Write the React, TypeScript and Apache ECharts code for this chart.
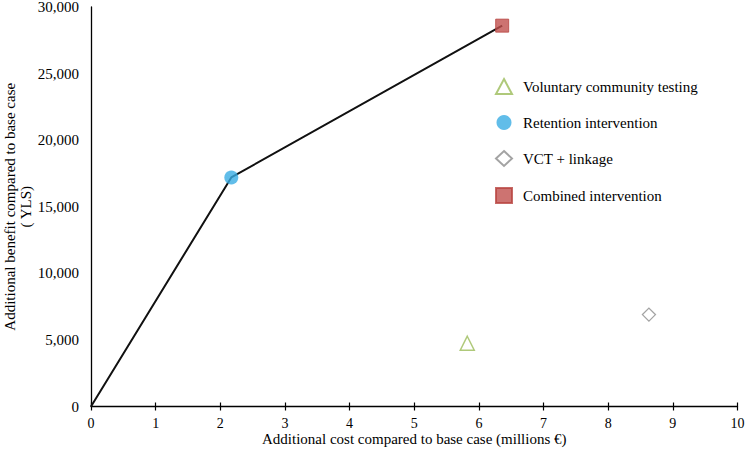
import React, { useEffect, useRef } from "react";
import * as echarts from "echarts";

const xTicks = [0, 1, 2, 3, 4, 5, 6, 7, 8, 9, 10];
const frontier: [number, number][] = [
  [0, 0],
  [2.17, 17200],
  [6.36, 28600],
];
const seriesNames = [
  "Voluntary community testing",
  "Retention intervention",
  "VCT + linkage",
  "Combined intervention",
];
const seriesPoints: [number, number][] = [
  [5.82, 4750],
  [2.17, 17200],
  [8.63, 6900],
  [6.36, 28600],
];

const FONT = "'Liberation Serif', 'Times New Roman', serif";

export default function App() {
  const ref = useRef<HTMLDivElement>(null);
  useEffect(() => {
    if (!ref.current) return;
    const chart = echarts.init(ref.current, undefined, { renderer: "svg" });
    const styles = [
      { symbol: "triangle", symbolSize: 14, itemStyle: { color: "#ffffff", borderColor: "#9BBB59", borderWidth: 1.5 } },
      { symbol: "circle", symbolSize: 14, itemStyle: { color: "#3AACE4" } },
      { symbol: "diamond", symbolSize: 13, itemStyle: { color: "#ffffff", borderColor: "#8C8C8C", borderWidth: 1.3 } },
      { symbol: "rect", symbolSize: 13, itemStyle: { color: "#C0504D", borderColor: "#B84440", borderWidth: 1 } },
    ];
    chart.setOption({
      animation: false,
      textStyle: { fontFamily: FONT },
      grid: { left: 91, right: 7.5, top: 7, bottom: 48.5, containLabel: false, outerBoundsMode: "none" },
      xAxis: [
        {
          type: "value",
          min: 0,
          max: xTicks[xTicks.length - 1],
          interval: 1,
          splitLine: { show: false },
          axisLine: { show: true, onZero: false, lineStyle: { color: "#000", width: 1.3 } },
          axisTick: { show: true, length: 4, lineStyle: { color: "#000", width: 1.2 } },
          axisLabel: { color: "#000", fontSize: 14, fontFamily: FONT, margin: 11, lineHeight: 12 },
          name: "Additional cost compared to base case (millions €)",
          nameLocation: "middle",
          nameGap: 26,
          nameMoveOverlap: false,
          nameTextStyle: { color: "#000", fontSize: 15, fontFamily: FONT, lineHeight: 13 },
        },
        {
          type: "value",
          position: "bottom",
          min: 0,
          max: xTicks[xTicks.length - 1],
          interval: 1,
          splitLine: { show: false },
          axisLine: { show: false },
          axisTick: { show: true, inside: true, length: 4, lineStyle: { color: "#000", width: 1.2 } },
          axisLabel: { show: false },
        },
      ],
      yAxis: {
        type: "value",
        min: 0,
        max: 30000,
        interval: 5000,
        splitLine: { show: false },
        axisLine: { show: true, lineStyle: { color: "#000", width: 1.3 } },
        axisTick: { show: false },
        axisLabel: {
          color: "#000",
          fontSize: 15,
          fontFamily: FONT,
          margin: 12,
          formatter: (v: number) => v.toLocaleString("en-US"),
        },
        name: "Additional benefit compared to base case\n( YLS)",
        nameLocation: "middle",
        nameGap: 57,
        nameRotate: 90,
        nameMoveOverlap: false,
        nameTextStyle: { color: "#000", fontSize: 15, fontFamily: FONT, lineHeight: 16 },
      },
      legend: {
        orient: "vertical",
        left: 490,
        top: 73,
        itemGap: 20,
        itemWidth: 16,
        itemHeight: 15,
        textStyle: { color: "#000", fontSize: 15, fontFamily: FONT, padding: [0, 0, 0, 6] },
        data: seriesNames.map((n, i) => ({ name: n, icon: styles[i].symbol })),
      },
      series: [
        {
          type: "line",
          name: "frontier",
          data: frontier,
          showSymbol: false,
          symbol: "none",
          lineStyle: { color: "#111", width: 2 },
          z: 1,
        },
        ...seriesNames.map((n, i) => ({
          type: "scatter",
          name: n,
          data: [seriesPoints[i]],
          symbol: styles[i].symbol,
          symbolSize: styles[i].symbolSize,
          itemStyle: styles[i].itemStyle,
          z: 3,
        })),
      ],
    });
    return () => chart.dispose();
  }, []);
  return <div ref={ref} style={{ width: 745, height: 455, position: "absolute", left: 0, top: 0 }} />;
}
